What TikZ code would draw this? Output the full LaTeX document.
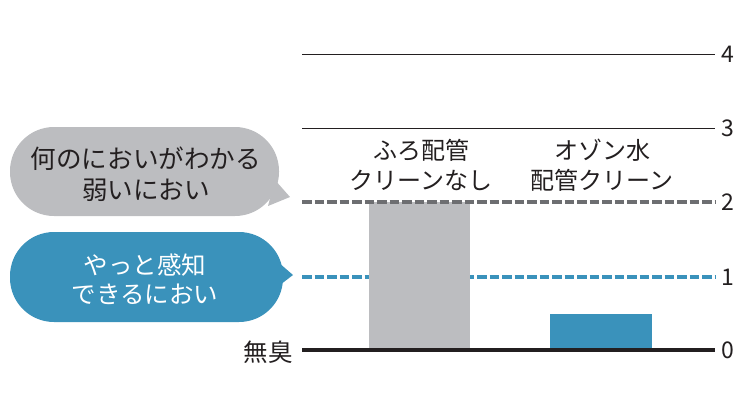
\documentclass[tikz,border=0pt]{standalone}
\usepackage{fontspec}
\setmainfont{Noto Sans CJK JP}
\definecolor{bubgray}{HTML}{BCBDC0}
\definecolor{dashgray}{HTML}{6D6E71}
\definecolor{myblue}{HTML}{3A92BB}
\definecolor{txt}{HTML}{231F20}
\begin{document}
\begin{tikzpicture}[x=1pt,y=-1pt,
  lbl/.style={font=\fontsize{24}{30}\selectfont,text=txt,align=center,inner sep=0pt},
  blbl/.style={font=\fontsize{24.5}{28.5}\selectfont,text=txt,align=center,inner sep=0pt},
  glbl/.style={font=\fontsize{25.6}{31.5}\selectfont,text=txt,align=center,inner sep=0pt},
  tick/.style={font=\fontsize{23}{26}\selectfont,text=txt,anchor=west,inner sep=0pt},
  thin/.style={line width=1pt,txt},
  dashg/.style={line width=4.5pt,dashgray,dash pattern=on 9.5pt off 3pt},
  dashb/.style={line width=4.5pt,myblue,dash pattern=on 9.5pt off 3pt}]
\useasboundingbox (0,0) rectangle (750,400);
% grid lines
\coordinate (l4a) at (302,54); \coordinate (l4b) at (715,54);
\coordinate (l3a) at (302,128); \coordinate (l3b) at (715,128);
\coordinate (l2a) at (302,202); \coordinate (l2b) at (715,202);
\coordinate (l1a) at (302,277); \coordinate (l1b) at (715,277);
\coordinate (l0a) at (302,350); \coordinate (l0b) at (715,350);
\draw[thin] (l4a) -- (l4b);
\draw[thin] (l3a) -- (l3b);
\draw[dashb] (l1a) -- (l1b);
% bars
\fill[bubgray] (369,202) rectangle (470,350);
\fill[myblue] (550,314) rectangle (652,350);
\draw[dashg] (l2a) -- (l2b);
\draw[line width=3.5pt,txt] (l0a) -- (l0b);
% tick labels
\node[tick] (t4) at (721,54) {4};
\node[tick] (t3) at (721,128) {3};
\node[tick] (t2) at (721,202) {2};
\node[tick] (t1) at (721,277) {1};
\node[tick] (t0) at (721,350) {0};
\node[blbl,anchor=east] (mu) at (293,352) {無臭};
% category labels
\node[lbl] (c1) at (421,165) {ふろ配管\\クリーンなし};
\node[lbl] (c2) at (602,165) {オゾン水\\配管クリーン};
% bubbles
\fill[bubgray,rounded corners=44pt] (10,127) rectangle (279,216);
\fill[bubgray] (275,180) -- (290,197) -- (268,206) -- cycle;
\fill[myblue,rounded corners=44pt] (10,232) rectangle (283,322);
\fill[myblue] (278,262) -- (293,275) -- (276,288) -- cycle;
\node[glbl] (b1) at (146,174) {何のにおいがわかる\\弱いにおい};
\node[blbl,text=white] (b2) at (145,279) {やっと感知\\できるにおい};
\end{tikzpicture}
\end{document}
